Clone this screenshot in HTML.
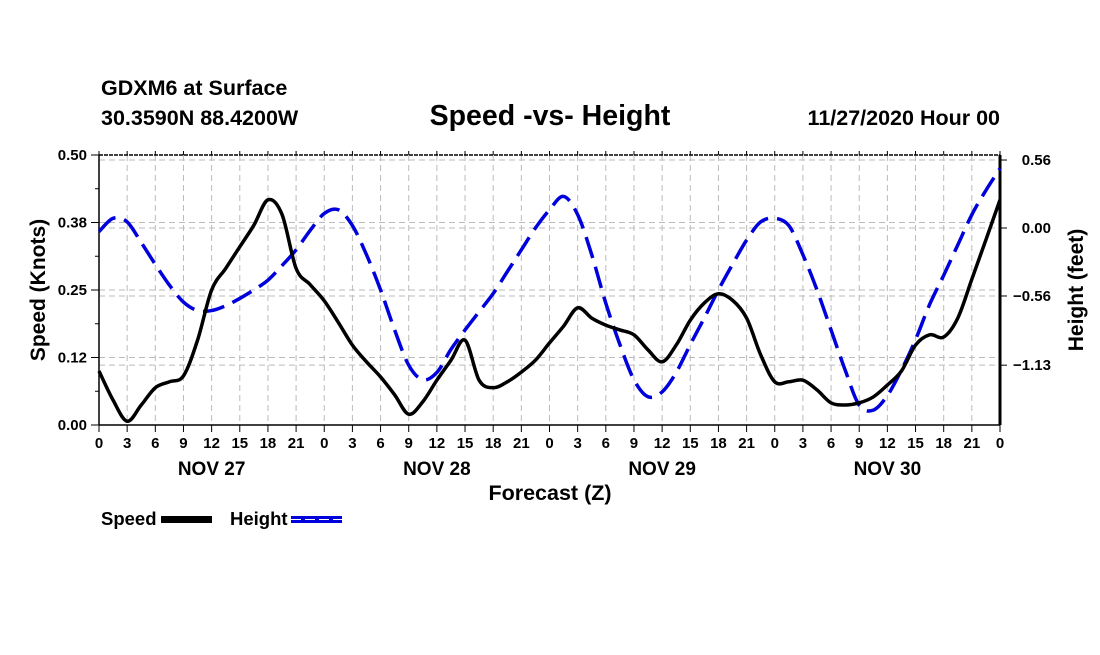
<!DOCTYPE html>
<html><head><meta charset="utf-8"><style>
body{margin:0;background:#fff;}
svg text{font-family:"Liberation Sans",sans-serif;font-weight:bold;fill:#000;}
</style></head><body>
<svg id="chart" width="1100" height="650" viewBox="0 0 1100 650" xmlns="http://www.w3.org/2000/svg">
<rect width="1100" height="650" fill="#fff"/>
<text x="101" y="95" font-size="21.5">GDXM6 at Surface</text>
<text x="101" y="125" font-size="21.5">30.3590N 88.4200W</text>
<text x="550" y="125" font-size="28.5" text-anchor="middle">Speed -vs- Height</text>
<text x="1000" y="125" font-size="21.5" text-anchor="end">11/27/2020 Hour 00</text>
<g id="grid"></g><g id="axes"></g><g id="series"></g>
<text transform="translate(45,290) rotate(-90)" font-size="21" text-anchor="middle">Speed (Knots)</text>
<text transform="translate(1083,290) rotate(-90)" font-size="21" text-anchor="middle">Height (feet)</text>
<text x="550" y="500" font-size="21.5" text-anchor="middle">Forecast (Z)</text>
<g><text x="101" y="525" font-size="18.5">Speed</text><rect x="161" y="516" width="51" height="7" fill="#000"/></g>
<g><text x="230" y="525" font-size="18.5">Height</text><rect x="291" y="516" width="51" height="7" fill="#0000dd"/><line x1="291" y1="519.5" x2="342" y2="519.5" stroke="#fff" stroke-width="1" stroke-dasharray="10,4"/></g>
</svg>
<script>
const hours=[0,1.5,3,4.5,6,7.5,9,10.5,12,13.5,15,16.5,18,19.5,21,22.5,24,25.5,27,28.5,30,31.5,33,34.5,36,37.5,39,40.5,42,43.5,45,46.5,48,49.5,51,52.5,54,55.5,57,58.5,60,61.5,63,64.5,66,67.5,69,70.5,72,73.5,75,76.5,78,79.5,81,82.5,84,85.5,87,88.5,90,91.5,93,94.5,96];
const speed=[0.10,0.046,0.007,0.037,0.069,0.080,0.091,0.157,0.25,0.29,0.33,0.37,0.417,0.39,0.29,0.26,0.23,0.19,0.148,0.117,0.089,0.056,0.02,0.043,0.083,0.12,0.157,0.083,0.069,0.08,0.098,0.12,0.152,0.183,0.217,0.198,0.185,0.176,0.167,0.139,0.117,0.148,0.194,0.226,0.243,0.231,0.198,0.13,0.08,0.08,0.083,0.065,0.041,0.037,0.041,0.052,0.074,0.10,0.148,0.167,0.163,0.198,0.27,0.343,0.417];
const height=[-0.03,0.08,0.05,-0.12,-0.30,-0.47,-0.61,-0.68,-0.68,-0.64,-0.58,-0.51,-0.43,-0.31,-0.18,-0.02,0.12,0.15,0.02,-0.22,-0.51,-0.84,-1.13,-1.25,-1.19,-1.00,-0.84,-0.69,-0.54,-0.36,-0.18,0.00,0.15,0.26,0.11,-0.22,-0.62,-0.96,-1.25,-1.39,-1.35,-1.19,-0.96,-0.74,-0.51,-0.30,-0.10,0.05,0.08,0.02,-0.22,-0.51,-0.84,-1.17,-1.46,-1.50,-1.38,-1.17,-0.92,-0.63,-0.39,-0.14,0.11,0.31,0.49];
const speedTicks=["0.00","0.12","0.25","0.38","0.50"];
const heightTicks=[0.56,0.00,-0.56,-1.13];
const heightTickLabels=["0.56","0.00","\u22120.56","\u22121.13"];
const dayLabels=["NOV 27","NOV 28","NOV 29","NOV 30"];
const X0=99,X1=1000,Y0=425,Y1=155;
const xs=h=>X0+(X1-X0)*h/96;
const ys=v=>Y0-(Y0-Y1)*v/0.5;
const yh=v=>228-v*121.4;
const NS="http://www.w3.org/2000/svg";
function mk(tag,attrs,parent,txt){const e=document.createElementNS(NS,tag);for(const k in attrs)e.setAttribute(k,attrs[k]);if(txt!==undefined)e.textContent=txt;document.getElementById(parent).appendChild(e);return e;}
for(let h=3;h<96;h+=3){const g=mk('line',{x1:xs(h),x2:xs(h),y1:Y1,y2:Y0,stroke:'#bbb','stroke-dasharray':'6,4'},'grid');

}
speedTicks.forEach((t,i)=>{const v=i*0.125;const y=ys(v);
if(i>0&&i<4){const g=mk('line',{x1:X0,x2:X1,y1:y,y2:y,stroke:'#bbb','stroke-dasharray':'6,4'},'grid');

}
mk('line',{x1:X0-8,x2:X0,y1:y,y2:y,stroke:'#000'},'axes');
const l=mk('text',{x:X0-12,y:y+5,'font-size':15,'text-anchor':'end'},'axes',t);

});
heightTicks.forEach((v,i)=>{const y=yh(v);
const g=mk('line',{x1:X0,x2:X1,y1:y,y2:y,stroke:'#bbb','stroke-dasharray':'6,4'},'grid');


mk('line',{x1:X1,x2:X1+7,y1:y,y2:y,stroke:'#000'},'axes');
const l=mk('text',{x:X1+51,y:y+5,'font-size':15,'text-anchor':'end'},'axes',heightTickLabels[i]);

});
for(let i=0;i<4;i++){const y=ys(i*0.125+0.0625);mk('line',{x1:X0-4,x2:X0,y1:y,y2:y,stroke:'#000'},'axes');}
for(let h=0;h<=96;h+=3){const x=xs(h);
mk('line',{x1:x,x2:x,y1:Y0,y2:Y0+7,stroke:'#000'},'axes');
mk('line',{x1:x,x2:x,y1:Y1-4,y2:Y1,stroke:'#000'},'axes');
const l=mk('text',{x:x,y:Y0+23,'font-size':15,'text-anchor':'middle'},'axes',String(h%24));

}
dayLabels.forEach((d,i)=>{const l=mk('text',{x:xs(12+24*i),y:Y0+50,'font-size':19,'text-anchor':'middle'},'axes',d);

});
mk('line',{x1:X0,x2:X1,y1:Y1,y2:Y1,stroke:'#000','stroke-width':1.5,'stroke-dasharray':'4,1'},'axes');
mk('line',{x1:X0,x2:X1,y1:Y0,y2:Y0,stroke:'#000','stroke-width':1.5},'axes');
mk('line',{x1:X0,x2:X0,y1:Y1,y2:Y0,stroke:'#000','stroke-width':1.5},'axes');
mk('line',{x1:X1,x2:X1,y1:Y1,y2:Y0,stroke:'#000','stroke-width':3},'axes');
function smooth(pts){let d=`M${pts[0][0]},${pts[0][1]}`;for(let i=0;i<pts.length-1;i++){const p0=pts[Math.max(i-1,0)],p1=pts[i],p2=pts[i+1],p3=pts[Math.min(i+2,pts.length-1)];
d+=` C${p1[0]+(p2[0]-p0[0])/6},${p1[1]+(p2[1]-p0[1])/6} ${p2[0]-(p3[0]-p1[0])/6},${p2[1]-(p3[1]-p1[1])/6} ${p2[0]},${p2[1]}`;}return d;}
const hp=mk('path',{d:smooth(hours.map((h,i)=>[xs(h),yh(height[i])])),fill:'none',stroke:'#0000dd','stroke-width':3.5,'stroke-dasharray':'22,9'},'series');


const sp=mk('path',{d:smooth(hours.map((h,i)=>[xs(h),ys(speed[i])])),fill:'none',stroke:'#000','stroke-width':3.5},'series');


</script>
</body></html>
